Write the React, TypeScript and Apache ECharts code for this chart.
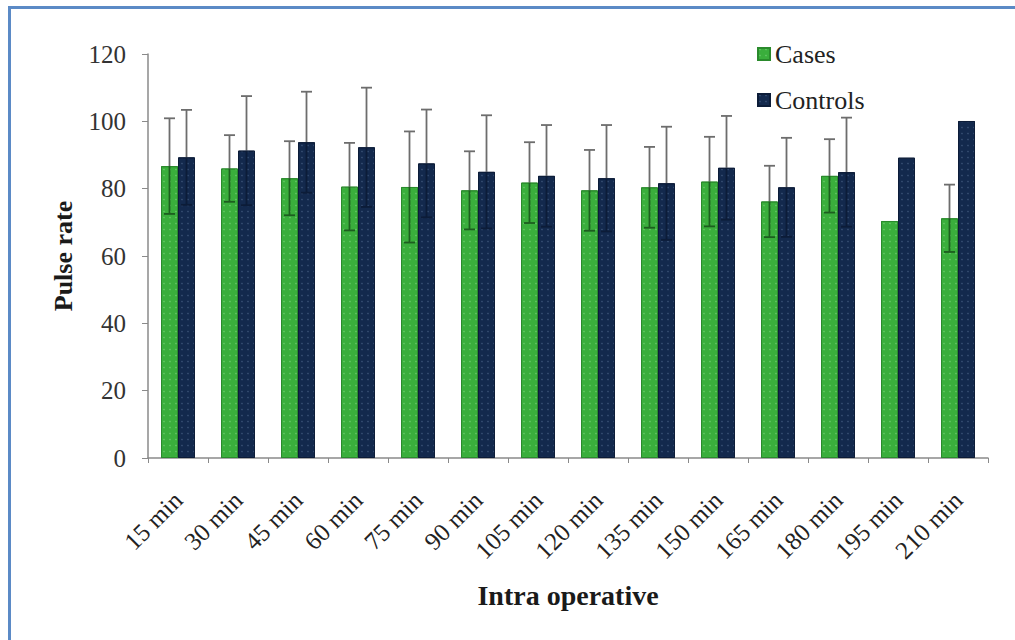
import React, { useEffect, useRef } from "react";
import * as echarts from "echarts";

const categories = ["15 min", "30 min", "45 min", "60 min", "75 min", "90 min", "105 min", "120 min", "135 min", "150 min", "165 min", "180 min", "195 min", "210 min"];
const casesMean = [86.7, 86.0, 83.1, 80.6, 80.5, 79.5, 81.8, 79.5, 80.4, 82.1, 76.2, 83.8, 70.4, 71.2];
const casesSD: (number | null)[] = [14.2, 9.9, 11.0, 13.0, 16.5, 11.6, 12.0, 12.0, 12.0, 13.3, 10.6, 10.9, null, 10.0];
const controlsMean = [89.3, 91.3, 93.8, 92.3, 87.5, 85.0, 83.8, 83.1, 81.6, 86.2, 80.4, 84.9, 89.2, 100.1];
const controlsSD: (number | null)[] = [14.1, 16.2, 15.0, 17.7, 16.0, 16.8, 15.1, 15.8, 16.8, 15.4, 14.7, 16.2, null, null];
const yTicks = { min: 0, max: 120, interval: 20 };

const BAR_W = 17;
const SERIF = "serif";

function errorSeries(name: string, means: number[], sds: (number | null)[], offset: number, innerColor: string) {
  const data = means
    .map((m, i) => (sds[i] == null ? null : [i, m, sds[i] as number]))
    .filter((d) => d !== null);
  return {
    type: "custom",
    name: name + " SD",
    z: 5,
    silent: true,
    data,
    renderItem: (params: any, api: any) => {
      const idx = api.value(0);
      const m = api.value(1);
      const sd = api.value(2);
      const pMid = api.coord([idx, m]);
      const pTop = api.coord([idx, m + sd]);
      const pBot = api.coord([idx, m - sd]);
      const x = pMid[0] + offset;
      const cap = 5.5;
      const grey = { stroke: "#6d6d6d", lineWidth: 1.8 };
      const inner = { stroke: innerColor, lineWidth: 1.8 };
      return {
        type: "group",
        children: [
          { type: "line", shape: { x1: x, y1: pTop[1], x2: x, y2: pMid[1] }, style: grey },
          { type: "line", shape: { x1: x - cap, y1: pTop[1], x2: x + cap, y2: pTop[1] }, style: grey },
          { type: "line", shape: { x1: x, y1: pMid[1], x2: x, y2: pBot[1] }, style: inner },
          { type: "line", shape: { x1: x - cap, y1: pBot[1], x2: x + cap, y2: pBot[1] }, style: inner },
        ],
      };
    },
  };
}

export default function App() {
  const ref = useRef<HTMLDivElement>(null);
  useEffect(() => {
    if (!ref.current) return;
    const chart = echarts.init(ref.current, null, { renderer: "svg" });
    const decalCases = {
      symbol: "circle",
      symbolSize: 0.5,
      color: "rgba(190,255,190,0.35)",
      dashArrayX: [4, 2],
      dashArrayY: [3, 3],
    };
    const decalControls = {
      symbol: "circle",
      symbolSize: 0.5,
      color: "rgba(150,180,220,0.3)",
      dashArrayX: [4, 2],
      dashArrayY: [3, 3],
    };
    chart.setOption({
      animation: false,
      backgroundColor: "#ffffff",
      textStyle: { fontFamily: SERIF },
      graphic: [
        {
          type: "rect",
          shape: { x: 9.5, y: 7.5, width: 1030, height: 660 },
          style: { fill: "none", stroke: "#5b8ac6", lineWidth: 3 },
          z: 100,
        },
      ],
      legend: {
        orient: "vertical",
        left: 752,
        top: 36,
        itemWidth: 12,
        itemHeight: 12,
        itemGap: 20,
        icon: "rect",
        data: ["Cases", "Controls"],
        textStyle: { fontFamily: SERIF, fontSize: 26, color: "#222" },
      },
      grid: { left: 148, right: 27, top: 54, bottom: 182, containLabel: false },
      xAxis: {
        type: "category",
        data: categories,
        name: "Intra operative",
        nameLocation: "middle",
        nameGap: 123,
        nameTextStyle: { fontFamily: SERIF, fontSize: 28, fontWeight: "bold", color: "#1a1a1a" },
        axisLine: { lineStyle: { color: "#8a8a8a", width: 1.5 } },
        axisTick: { show: true, length: 5, lineStyle: { color: "#8a8a8a" } },
        axisLabel: { rotate: 45, margin: 38, fontFamily: SERIF, fontSize: 25, color: "#222", interval: 0 },
      },
      yAxis: {
        type: "value",
        min: yTicks.min,
        max: yTicks.max,
        interval: yTicks.interval,
        name: "Pulse rate",
        nameLocation: "middle",
        nameGap: 72,
        nameTextStyle: { fontFamily: SERIF, fontSize: 26, fontWeight: "bold", color: "#1a1a1a" },
        axisLine: { show: true, lineStyle: { color: "#8a8a8a", width: 1.5 } },
        axisTick: { show: true, length: 6, lineStyle: { color: "#8a8a8a" } },
        splitLine: { show: false },
        axisLabel: { margin: 22, fontFamily: SERIF, fontSize: 25, color: "#333" },
      },
      series: [
        {
          name: "Cases",
          type: "bar",
          data: casesMean,
          barWidth: BAR_W,
          barGap: "0%",
          itemStyle: { color: "#3aae3c", borderColor: "#2a8a2c", borderWidth: 1, decal: decalCases },
        },
        {
          name: "Controls",
          type: "bar",
          data: controlsMean,
          barWidth: BAR_W,
          barGap: "0%",
          itemStyle: { color: "#13294d", borderColor: "#0c1c38", borderWidth: 1, decal: decalControls },
        },
        errorSeries("Cases", casesMean, casesSD, -BAR_W / 2, "#1d5e1f"),
        errorSeries("Controls", controlsMean, controlsSD, BAR_W / 2, "#0c1c38"),
      ],
    });
    return () => chart.dispose();
  }, []);
  return (
    <div
      ref={ref}
      style={{ position: "absolute", left: 0, top: 0, width: 1015, height: 640, background: "#fff" }}
    />
  );
}
